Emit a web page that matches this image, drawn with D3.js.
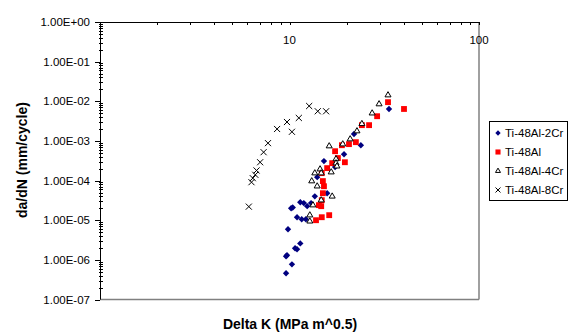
<!DOCTYPE html>
<html>
<head>
<meta charset="utf-8">
<script src="https://cdn.jsdelivr.net/npm/d3@7"></script>
<style>
  body { margin: 0; background: #fff; }
  svg { font-family: Arial, "Liberation Sans", sans-serif; }
</style>
</head>
<body>
<div id="chart"></div>
<script>
// delta K (MPa m^0.5) and da/dN (mm/cycle)
const cr2K = [33.5, 21.9, 23.8, 19.4, 15.2, 17.4, 14.0, 15.8, 13.6, 11.4, 11.9, 12.4, 13.0, 10.4, 10.2, 10.96, 11.6, 12.2, 9.82, 11.4, 10.7, 10.96, 9.7, 9.59, 10.3, 9.59]
const cr2Rate = [6.4e-3, 1.49e-3, 7.8e-4, 4.6e-4, 3.1e-4, 2.2e-4, 1.22e-4, 4.8e-5, 4.0e-5, 2.85e-5, 2.7e-5, 2.26e-5, 2.7e-5, 2.1e-5, 2.0e-5, 1.19e-5, 1.06e-5, 1.06e-5, 5.9e-6, 2.6e-6, 1.96e-6, 1.85e-6, 1.31e-6, 1.23e-6, 7.7e-7, 4.6e-7]

const alK = [33.1, 40.2, 29.0, 24.1, 26.3, 22.4, 18.9, 20.6, 17.4, 18.0, 19.6, 16.8, 15.8, 14.8, 15.0, 15.2, 15.0, 14.8, 14.3, 14.7, 13.8, 14.8, 16.2]
const alRate = [9.5e-3, 6.4e-3, 4.2e-3, 2.5e-3, 2.5e-3, 9.3e-4, 7.8e-4, 8.3e-4, 5.5e-4, 3.7e-4, 2.9e-4, 2.75e-4, 2.06e-4, 1.54e-4, 9.7e-5, 7.2e-5, 4.8e-5, 3.2e-5, 2.4e-5, 2.26e-5, 1.0e-5, 1.19e-5, 1.34e-5]

const cr4K = [33.1, 29.7, 27.3, 24.1, 22.7, 20.9, 19.1, 16.2, 17.6, 17.6, 17.8, 16.6, 14.5, 14.7, 13.6, 13.1, 14.0, 16.8, 14.7, 13.3, 12.8, 12.8]
const cr4Rate = [1.43e-2, 8.5e-3, 5.0e-3, 2.7e-3, 1.77e-3, 1.11e-3, 8.3e-4, 7.4e-4, 3.5e-4, 2.75e-4, 2.3e-4, 1.63e-4, 1.94e-4, 1.54e-4, 1.54e-4, 9.7e-5, 7.2e-5, 4.0e-5, 3.2e-5, 2.4e-5, 1.34e-5, 9.4e-6]

const cr8K = [12.7, 14.1, 15.6, 11.2, 9.7, 8.6, 10.3, 7.7, 7.3, 7.0, 6.7, 6.6, 6.4, 6.3, 6.1]
const cr8Rate = [7.6e-3, 5.6e-3, 5.6e-3, 3.8e-3, 3.0e-3, 2.0e-3, 1.7e-3, 8.8e-4, 5.2e-4, 2.9e-4, 1.8e-4, 1.4e-4, 1.15e-4, 9.1e-5, 2.2e-5]

const seriesNames = ['Ti-48Al-2Cr', 'Ti-48Al', 'Ti-48Al-4Cr', 'Ti-48Al-8Cr']
const yTickLabels = ['1.00E-07', '1.00E-06', '1.00E-05', '1.00E-04', '1.00E-03', '1.00E-02', '1.00E-01', '1.00E+00']
const xTickLabels = ['10', '100']

const width = 573
const height = 333

const svg = d3.select('#chart')
    .append('svg')
    .attr('width', width)
    .attr('height', height)

const x = d3.scaleLog().domain([1, 100]).range([100, 479])
const y = d3.scaleLog().domain([1e-7, 1]).range([299.5, 22])

// plot area border (right and bottom, grey)
svg.append('line')
    .attr('x1', x(100)).attr('x2', x(100))
    .attr('y1', y(1)).attr('y2', y(1e-7))
    .attr('stroke', '#808080').attr('stroke-width', 1.5)
svg.append('line')
    .attr('x1', x(1)).attr('x2', x(100))
    .attr('y1', y(1e-7)).attr('y2', y(1e-7))
    .attr('stroke', '#808080').attr('stroke-width', 1.5)

// y axis: majors outside, minors inside
const yMajor = d3.range(-7, 1).map(e => Math.pow(10, e))
const yMinor = []
d3.range(-7, 0).forEach(e => {
    for (let m = 2; m <= 9; m++) yMinor.push(m * Math.pow(10, e))
})
const yAxis = svg.append('g')
yAxis.selectAll('line.minor')
    .data(yMinor).enter().append('line')
    .attr('class', 'minor')
    .attr('x1', x(1) - 1).attr('x2', x(1) + 3)
    .attr('y1', d => Math.round(y(d)) + 0.5).attr('y2', d => Math.round(y(d)) + 0.5)
    .attr('stroke', '#000')
yAxis.selectAll('line.major')
    .data(yMajor).enter().append('line')
    .attr('class', 'major')
    .attr('x1', x(1) - 5).attr('x2', x(1))
    .attr('y1', d => Math.round(y(d)) + 0.5).attr('y2', d => Math.round(y(d)) + 0.5)
    .attr('stroke', '#000')
yAxis.selectAll('text')
    .data(yMajor).enter().append('text')
    .attr('x', 90)
    .attr('y', d => y(d) + 4)
    .attr('text-anchor', 'end')
    .attr('font-size', '11.5px')
    .text((d, i) => yTickLabels[i])
yAxis.append('line')
    .attr('x1', x(1) + 0.5).attr('x2', x(1) + 0.5)
    .attr('y1', y(1)).attr('y2', y(1e-7))
    .attr('stroke', '#000')

// x axis on top
const xTicks = []
d3.range(0, 2).forEach(e => {
    for (let m = 2; m <= 10; m++) xTicks.push(m * Math.pow(10, e))
})
const xAxis = svg.append('g')
xAxis.selectAll('line')
    .data(xTicks).enter().append('line')
    .attr('x1', d => Math.round(x(d)) + 0.5).attr('x2', d => Math.round(x(d)) + 0.5)
    .attr('y1', y(1)).attr('y2', y(1) + 3)
    .attr('stroke', '#000')
xAxis.selectAll('text')
    .data([10, 100]).enter().append('text')
    .attr('x', d => x(d))
    .attr('y', 44)
    .attr('text-anchor', 'middle')
    .attr('font-size', '11.5px')
    .text((d, i) => xTickLabels[i])
xAxis.append('line')
    .attr('x1', x(1)).attr('x2', x(100))
    .attr('y1', Math.round(y(1)) + 0.5).attr('y2', Math.round(y(1)) + 0.5)
    .attr('stroke', '#000')

// axis titles
svg.append('text')
    .attr('x', 290).attr('y', 329)
    .attr('text-anchor', 'middle')
    .attr('font-size', '14px').attr('font-weight', 'bold')
    .text('Delta K (MPa m^0.5)')
svg.append('text')
    .attr('transform', 'translate(27,160) rotate(-90)')
    .attr('text-anchor', 'middle')
    .attr('font-size', '14px').attr('font-weight', 'bold')
    .text('da/dN (mm/cycle)')

// markers
const diamond = d3.symbol().type(d3.symbolDiamond2).size(26)
const square = d3.symbol().type(d3.symbolSquare).size(34)
const triangle = d3.symbol().type(d3.symbolTriangle2).size(26)
const cross = d3.symbol().type(d3.symbolX).size(26)

const styles = [
    { sym: diamond, fill: '#000080', stroke: 'none' },
    { sym: square, fill: '#ff0000', stroke: 'none' },
    { sym: triangle, fill: '#fff', stroke: '#000' },
    { sym: cross, fill: 'none', stroke: '#000' },
]

const series = [
    d3.zip(cr2K, cr2Rate),
    d3.zip(alK, alRate),
    d3.zip(cr4K, cr4Rate),
    d3.zip(cr8K, cr8Rate),
]

series.forEach((pts, i) => {
    const s = styles[i]
    svg.append('g').selectAll('path')
        .data(pts).enter().append('path')
        .attr('transform', d => 'translate(' + x(d[0]) + ',' + y(d[1]) + ')')
        .attr('d', s.sym())
        .attr('fill', s.fill)
        .attr('stroke', s.stroke)
        .attr('stroke-width', 1)
})

// legend
const legend = svg.append('g')
legend.append('rect')
    .attr('x', 489.5).attr('y', 121.5)
    .attr('width', 78).attr('height', 79)
    .attr('fill', '#fff').attr('stroke', '#000')
const rows = legend.selectAll('g.row')
    .data(seriesNames).enter().append('g')
    .attr('class', 'row')
    .attr('transform', (d, i) => 'translate(0,' + (133 + i * 19) + ')')
rows.append('path')
    .attr('transform', 'translate(498,0)')
    .attr('d', (d, i) => styles[i].sym.size(i == 1 ? 26 : 18)())
    .attr('fill', (d, i) => styles[i].fill)
    .attr('stroke', (d, i) => styles[i].stroke)
rows.append('text')
    .attr('x', 505).attr('y', 4)
    .attr('font-size', '11.5px')
    .text(d => d)
</script>
</body>
</html>
